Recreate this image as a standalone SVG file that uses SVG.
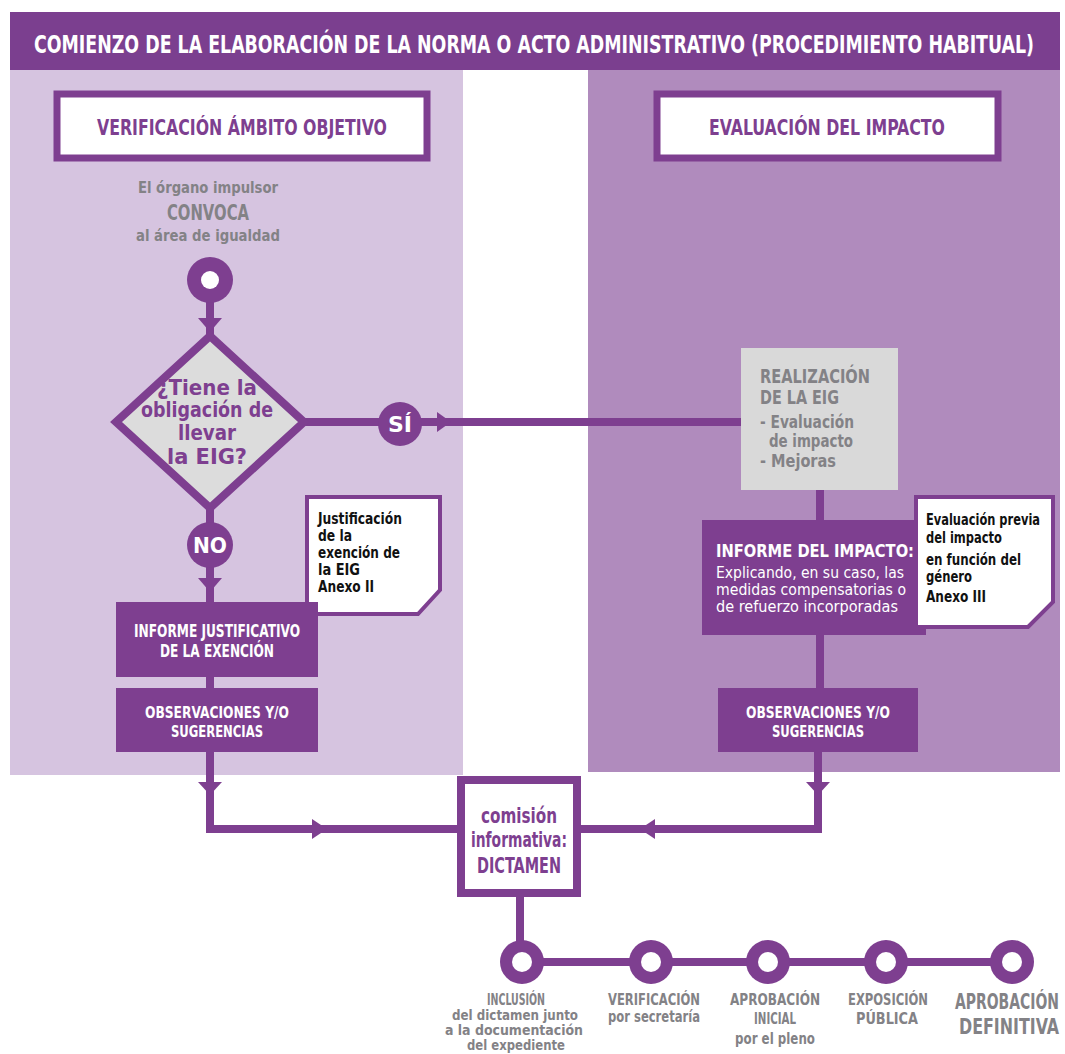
<svg xmlns="http://www.w3.org/2000/svg" width="1065" height="1054" viewBox="0 0 1065 1054">
<style>
  .f{font-family:"DejaVu Sans Condensed","DejaVu Sans","Liberation Sans",sans-serif;font-stretch:condensed;font-weight:bold}
  .r{font-family:"DejaVu Sans Condensed","DejaVu Sans","Liberation Sans",sans-serif;font-stretch:condensed}
  .w{fill:#ffffff}
  .p{fill:#7e3f90}
  .g{fill:#838286}
  .k{fill:#111111}
  .ln{stroke:#7e3f90;stroke-width:8;fill:none}
  .box{fill:#7e3f90}
  .hdr{fill:#ffffff;stroke:#7e3f90;stroke-width:7}
  .note{fill:#ffffff;stroke:#7e3f90;stroke-width:4}
  .arr{fill:#7e3f90}
</style>
<rect x="0" y="0" width="1065" height="1054" fill="#ffffff"/>
<!-- panels -->
<rect x="10" y="70" width="453" height="705" fill="#d6c4e0"/>
<rect x="588" y="70" width="472" height="702" fill="#b08bbd"/>
<!-- title -->
<g id="title">
  <rect x="10" y="12" width="1050" height="58" fill="#7b3f8f"/>
  <text class="f w" x="534" y="53" font-size="24" text-anchor="middle" textLength="1000" lengthAdjust="spacingAndGlyphs">COMIENZO DE LA ELABORACIÓN DE LA NORMA O ACTO ADMINISTRATIVO (PROCEDIMIENTO HABITUAL)</text>
</g>
<!-- connectors -->
<g id="connectors">
  <line class="ln" x1="210" y1="300" x2="210" y2="335"/>
  <polygon class="arr" points="198,318 222,318 210,332"/>
  <line class="ln" x1="303" y1="422" x2="745" y2="422"/>
  <polygon class="arr" points="437,412 437,432 451,422"/>
  <line class="ln" x1="210" y1="505" x2="210" y2="605"/>
  <polygon class="arr" points="198,578 222,578 210,592"/>
  <line class="ln" x1="210" y1="675" x2="210" y2="690"/>
  <path class="ln" d="M210,750 V829 H462"/>
  <polygon class="arr" points="198,782 222,782 210,795"/>
  <polygon class="arr" points="312,819 312,839 327,829"/>
  <line class="ln" x1="820" y1="488" x2="820" y2="522"/>
  <line class="ln" x1="820" y1="633" x2="820" y2="690"/>
  <path class="ln" d="M818,750 V829 H578"/>
  <polygon class="arr" points="806,782 830,782 818,795"/>
  <polygon class="arr" points="655,819 655,839 640,829"/>
  <line class="ln" x1="520" y1="893" x2="520" y2="962"/>
  <line class="ln" x1="520" y1="962" x2="1012" y2="962"/>
</g>
<!-- header boxes -->
<g id="hdr-left">
  <rect class="hdr" x="57" y="94" width="370" height="64"/>
  <text class="f p" x="242" y="135" font-size="21" text-anchor="middle" textLength="290" lengthAdjust="spacingAndGlyphs">VERIFICACIÓN ÁMBITO OBJETIVO</text>
</g>
<g id="hdr-right">
  <rect class="hdr" x="657" y="94" width="341" height="64"/>
  <text class="f p" x="827" y="135" font-size="21" text-anchor="middle" textLength="236" lengthAdjust="spacingAndGlyphs">EVALUACIÓN DEL IMPACTO</text>
</g>
<!-- convoca -->
<g id="convoca">
  <text class="f g" x="208" y="193" font-size="16" text-anchor="middle" textLength="140" lengthAdjust="spacingAndGlyphs">El órgano impulsor</text>
  <text class="f g" x="208" y="220" font-size="22" text-anchor="middle" textLength="82" lengthAdjust="spacingAndGlyphs">CONVOCA</text>
  <text class="f g" x="208" y="241" font-size="16" text-anchor="middle" textLength="144" lengthAdjust="spacingAndGlyphs">al área de igualdad</text>
</g>
<g id="start">
  <circle cx="210" cy="280" r="23" fill="#7e3f90"/>
  <circle cx="210" cy="280" r="9" fill="#ffffff"/>
</g>
<!-- diamond -->
<g id="decision">
  <polygon points="210,336 304,422 210,508 116,422" fill="#dcdcdc" stroke="#7e3f90" stroke-width="8" stroke-linejoin="miter"/>
  <text class="f p" x="207" y="395" font-size="20.5" text-anchor="middle" textLength="100" lengthAdjust="spacingAndGlyphs">¿Tiene la</text>
  <text class="f p" x="207" y="417" font-size="20.5" text-anchor="middle" textLength="132" lengthAdjust="spacingAndGlyphs">obligación de</text>
  <text class="f p" x="207" y="440" font-size="20.5" text-anchor="middle" textLength="58" lengthAdjust="spacingAndGlyphs">llevar</text>
  <text class="f p" x="207" y="464" font-size="20.5" text-anchor="middle" textLength="80" lengthAdjust="spacingAndGlyphs">la EIG?</text>
</g>
<g id="si">
  <circle cx="400" cy="424" r="22" fill="#7e3f90"/>
  <text class="f w" x="400" y="432" font-size="22" text-anchor="middle" textLength="24" lengthAdjust="spacingAndGlyphs">SÍ</text>
</g>
<g id="no">
  <circle cx="210" cy="545" r="23" fill="#7e3f90"/>
  <text class="f w" x="210" y="553" font-size="22" text-anchor="middle" textLength="34" lengthAdjust="spacingAndGlyphs">NO</text>
</g>
<!-- left note -->
<g id="note-left">
  <path class="note" d="M307,497 H440 V590 L418,614 H307 Z"/>
  <text class="f k" x="318" y="524" font-size="16" textLength="84" lengthAdjust="spacingAndGlyphs">Justificación</text>
  <text class="f k" x="318" y="541" font-size="16" textLength="34" lengthAdjust="spacingAndGlyphs">de la</text>
  <text class="f k" x="318" y="558" font-size="16" textLength="82" lengthAdjust="spacingAndGlyphs">exención de</text>
  <text class="f k" x="318" y="575" font-size="16" textLength="42" lengthAdjust="spacingAndGlyphs">la EIG</text>
  <text class="f k" x="318" y="592" font-size="16" textLength="56" lengthAdjust="spacingAndGlyphs">Anexo II</text>
</g>
<g id="informe-just">
  <rect class="box" x="116" y="602" width="202" height="75"/>
  <text class="f w" x="217" y="637" font-size="17" text-anchor="middle" textLength="166" lengthAdjust="spacingAndGlyphs">INFORME JUSTIFICATIVO</text>
  <text class="f w" x="217" y="657" font-size="17" text-anchor="middle" textLength="114" lengthAdjust="spacingAndGlyphs">DE LA EXENCIÓN</text>
</g>
<g id="obs-left">
  <rect class="box" x="116" y="688" width="202" height="64"/>
  <text class="f w" x="217" y="718" font-size="16" text-anchor="middle" textLength="144" lengthAdjust="spacingAndGlyphs">OBSERVACIONES Y/O</text>
  <text class="f w" x="217" y="737" font-size="16" text-anchor="middle" textLength="92" lengthAdjust="spacingAndGlyphs">SUGERENCIAS</text>
</g>
<!-- right side -->
<g id="realizacion">
  <rect x="741" y="348" width="157" height="142" fill="#d9d9d9"/>
  <text class="f g" x="760" y="383" font-size="19" textLength="110" lengthAdjust="spacingAndGlyphs">REALIZACIÓN</text>
  <text class="f g" x="760" y="404" font-size="19" textLength="79" lengthAdjust="spacingAndGlyphs">DE LA EIG</text>
  <text class="f g" x="760" y="428" font-size="17" textLength="94" lengthAdjust="spacingAndGlyphs">- Evaluación</text>
  <text class="f g" x="769" y="447" font-size="17" textLength="84" lengthAdjust="spacingAndGlyphs">de impacto</text>
  <text class="f g" x="760" y="467" font-size="17" textLength="76" lengthAdjust="spacingAndGlyphs">- Mejoras</text>
</g>
<g id="informe-impacto">
  <rect class="box" x="702" y="520" width="224" height="115"/>
  <text class="f w" x="716" y="557" font-size="18" textLength="198" lengthAdjust="spacingAndGlyphs">INFORME DEL IMPACTO:</text>
  <text class="r w" x="716" y="578" font-size="15" textLength="188" lengthAdjust="spacingAndGlyphs">Explicando, en su caso, las</text>
  <text class="r w" x="716" y="595" font-size="15" textLength="190" lengthAdjust="spacingAndGlyphs">medidas compensatorias o</text>
  <text class="r w" x="716" y="612" font-size="15" textLength="182" lengthAdjust="spacingAndGlyphs">de refuerzo incorporadas</text>
</g>
<g id="note-right">
  <path class="note" d="M916,497 H1053 V602 L1028,627 H916 Z"/>
  <text class="f k" x="926" y="525" font-size="15.5" textLength="114" lengthAdjust="spacingAndGlyphs">Evaluación previa</text>
  <text class="f k" x="926" y="543" font-size="16" textLength="76" lengthAdjust="spacingAndGlyphs">del impacto</text>
  <text class="f k" x="926" y="565" font-size="16" textLength="95" lengthAdjust="spacingAndGlyphs">en función del</text>
  <text class="f k" x="926" y="582" font-size="16" textLength="46" lengthAdjust="spacingAndGlyphs">género</text>
  <text class="f k" x="926" y="602" font-size="16" textLength="60" lengthAdjust="spacingAndGlyphs">Anexo III</text>
</g>
<g id="obs-right">
  <rect class="box" x="718" y="688" width="200" height="64"/>
  <text class="f w" x="818" y="718" font-size="16" text-anchor="middle" textLength="144" lengthAdjust="spacingAndGlyphs">OBSERVACIONES Y/O</text>
  <text class="f w" x="818" y="737" font-size="16" text-anchor="middle" textLength="92" lengthAdjust="spacingAndGlyphs">SUGERENCIAS</text>
</g>
<!-- commission -->
<g id="comision">
  <rect x="461" y="780" width="116" height="113" fill="#ffffff" stroke="#7e3f90" stroke-width="8"/>
  <text class="f p" x="519" y="823" font-size="21" text-anchor="middle" textLength="76" lengthAdjust="spacingAndGlyphs">comisión</text>
  <text class="f p" x="519" y="847" font-size="21" text-anchor="middle" textLength="96" lengthAdjust="spacingAndGlyphs">informativa:</text>
  <text class="f p" x="519" y="873" font-size="21" text-anchor="middle" textLength="84" lengthAdjust="spacingAndGlyphs">DICTAMEN</text>
</g>
<!-- timeline -->
<g id="t1">
  <circle cx="522" cy="962" r="22" fill="#7e3f90"/><circle cx="522" cy="962" r="10" fill="#ffffff"/>
  <text class="f g" x="516" y="1005" font-size="16" text-anchor="middle" textLength="58" lengthAdjust="spacingAndGlyphs">INCLUSIÓN</text>
  <text class="f g" x="515" y="1020" font-size="14" text-anchor="middle" textLength="126" lengthAdjust="spacingAndGlyphs">del dictamen junto</text>
  <text class="f g" x="514" y="1035" font-size="14" text-anchor="middle" textLength="138" lengthAdjust="spacingAndGlyphs">a la documentación</text>
  <text class="f g" x="516" y="1050" font-size="14" text-anchor="middle" textLength="98" lengthAdjust="spacingAndGlyphs">del expediente</text>
</g>
<g id="t2">
  <circle cx="651" cy="962" r="22" fill="#7e3f90"/><circle cx="651" cy="962" r="10" fill="#ffffff"/>
  <text class="f g" x="654" y="1005" font-size="16" text-anchor="middle" textLength="92" lengthAdjust="spacingAndGlyphs">VERIFICACIÓN</text>
  <text class="f g" x="654" y="1022" font-size="15" text-anchor="middle" textLength="92" lengthAdjust="spacingAndGlyphs">por secretaría</text>
</g>
<g id="t3">
  <circle cx="768" cy="962" r="22" fill="#7e3f90"/><circle cx="768" cy="962" r="10" fill="#ffffff"/>
  <text class="f g" x="775" y="1005" font-size="16" text-anchor="middle" textLength="90" lengthAdjust="spacingAndGlyphs">APROBACIÓN</text>
  <text class="f g" x="775" y="1024" font-size="16" text-anchor="middle" textLength="42" lengthAdjust="spacingAndGlyphs">INICIAL</text>
  <text class="f g" x="775" y="1044" font-size="15" text-anchor="middle" textLength="80" lengthAdjust="spacingAndGlyphs">por el pleno</text>
</g>
<g id="t4">
  <circle cx="886" cy="962" r="22" fill="#7e3f90"/><circle cx="886" cy="962" r="10" fill="#ffffff"/>
  <text class="f g" x="888" y="1005" font-size="16" text-anchor="middle" textLength="80" lengthAdjust="spacingAndGlyphs">EXPOSICIÓN</text>
  <text class="f g" x="887" y="1024" font-size="16" text-anchor="middle" textLength="62" lengthAdjust="spacingAndGlyphs">PÚBLICA</text>
</g>
<g id="t5">
  <circle cx="1012" cy="962" r="22" fill="#7e3f90"/><circle cx="1012" cy="962" r="10" fill="#ffffff"/>
  <text class="f g" x="955" y="1009" font-size="21" textLength="104" lengthAdjust="spacingAndGlyphs">APROBACIÓN</text>
  <text class="f g" x="959" y="1034" font-size="21" textLength="100" lengthAdjust="spacingAndGlyphs">DEFINITIVA</text>
</g>
</svg>
